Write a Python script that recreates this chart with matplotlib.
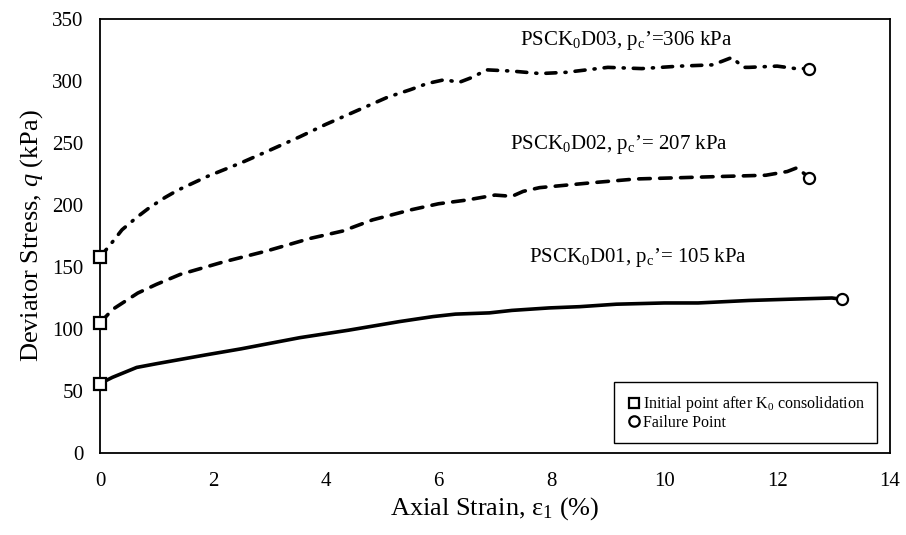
import matplotlib
matplotlib.use("Agg")
import matplotlib.pyplot as plt
from matplotlib.lines import Line2D

plt.rcParams['font.family'] = ['Liberation Serif', 'DejaVu Serif']
plt.rcParams['mathtext.fontset'] = 'custom'
plt.rcParams['mathtext.rm'] = 'Liberation Serif'
plt.rcParams['mathtext.it'] = 'Liberation Serif:italic'

# ---- data ----
d01_strain = [0, 0.22, 0.65, 1.0, 1.86, 2.5, 3.54, 4.4, 5.31, 5.9, 6.3, 6.9, 7.3, 7.96,
              8.5, 9.15, 10.0, 10.6, 11.5, 12.2, 12.97, 13.15]
d01_q = [56, 61, 69, 72, 79, 84, 93, 99, 106, 110, 112, 113, 115, 117,
         118, 120, 121, 121, 123, 124, 125, 124]

d02_strain = [0, 0.23, 0.67, 1.0, 1.42, 2.18, 2.96, 3.72, 4.3, 4.83, 5.5, 6.0, 6.5, 7.0,
              7.3, 7.5, 7.79, 8.73, 9.5, 10.27, 11.0, 11.8, 12.18, 12.35, 12.57]
d02_q = [105, 116, 129, 136, 144, 154, 163, 173, 179, 188, 196, 201, 204, 208,
         207, 211, 214, 218, 221, 222, 223, 224, 227, 230, 222]

d03_strain = [0, 0.2, 0.39, 0.65, 0.88, 1.15, 1.38, 1.9, 2.5, 3.0, 3.54, 4.0, 4.65, 5.1,
              5.5, 5.8, 6.1, 6.37, 6.6, 6.85, 7.3, 7.8, 8.26, 9.0, 9.6, 10.27, 10.85,
              11.03, 11.2, 11.4, 11.5, 12.0, 12.33, 12.57]
d03_q = [158, 169, 180, 190, 198, 206, 212, 223, 234, 244, 255, 265, 278, 287,
         293, 298, 301, 299, 303, 309, 308, 306, 307, 311, 310, 312, 313,
         316, 319, 311, 311, 312, 310, 310]

labels = ["PSCK$_0$D01, p$_\\mathrm{c}$\u2019= 105 kPa",
          "PSCK$_0$D02, p$_\\mathrm{c}$\u2019= 207 kPa",
          "PSCK$_0$D03, p$_\\mathrm{c}$\u2019=306 kPa"]
label_pos = [(7.6, 158), (7.27, 249), (7.45, 333)]

fig = plt.figure(figsize=(9.06, 5.35), dpi=100)
ax = fig.add_axes([100 / 906, 1 - 453 / 535, 790 / 906, 434 / 535])

ax.plot(d01_strain, d01_q, color='black', lw=2.6, solid_capstyle='round')
ax.plot(d02_strain, d02_q, color='black', lw=2.6, dashes=(3.2, 2.6),
        dash_capstyle='round')
ax.plot(d03_strain, d03_q, color='black', lw=2.6, dashes=(2.8, 2.5, 0.3, 2.5),
        dash_capstyle='round')

# initial (square) and failure (circle) points
for xs, ys in [(d01_strain, d01_q), (d02_strain, d02_q), (d03_strain, d03_q)]:
    ax.plot(xs[0], ys[0], 's', ms=8, mfc='white', mec='black', mew=1.6,
            zorder=5, clip_on=False)
    ax.plot(xs[-1], ys[-1], 'o', ms=8, mfc='white', mec='black', mew=1.6,
            zorder=5, clip_on=False)

for txt, (tx, ty) in zip(labels, label_pos):
    ax.text(tx, ty, txt, fontsize=15, va='center', ha='left')

ax.set_xlim(0, 14)
ax.set_ylim(0, 350)
ax.set_xticks(range(0, 15, 2))
ax.set_yticks(range(0, 351, 50))
ax.tick_params(length=0, labelsize=15)
ax.tick_params(axis='y', pad=12)
ax.tick_params(axis='x', pad=14)
for s in ax.spines.values():
    s.set_linewidth(1.3)

ax.set_xlabel("Axial Strain, \u03b5$_1$ (%)", fontsize=19, labelpad=3)
ax.set_ylabel("Deviator Stress, $q$ (kPa)", fontsize=19, labelpad=5)

handles = [Line2D([], [], ls='none', marker='s', ms=7.5, mfc='white', mec='black', mew=1.6),
           Line2D([], [], ls='none', marker='o', ms=7.5, mfc='white', mec='black', mew=1.6)]
leg = ax.legend(handles, ["Initial point after K$_0$ consolidation", "Failure Point"],
                loc='lower right', bbox_to_anchor=(0.984, 0.023), fontsize=11.5,
                fancybox=False, edgecolor='black', framealpha=1,
                handletextpad=0.1, handlelength=1.0, borderpad=0.75, labelspacing=0.05,
                borderaxespad=0)
leg.get_frame().set_linewidth(1.0)

plt.savefig('out.png', dpi=100)
